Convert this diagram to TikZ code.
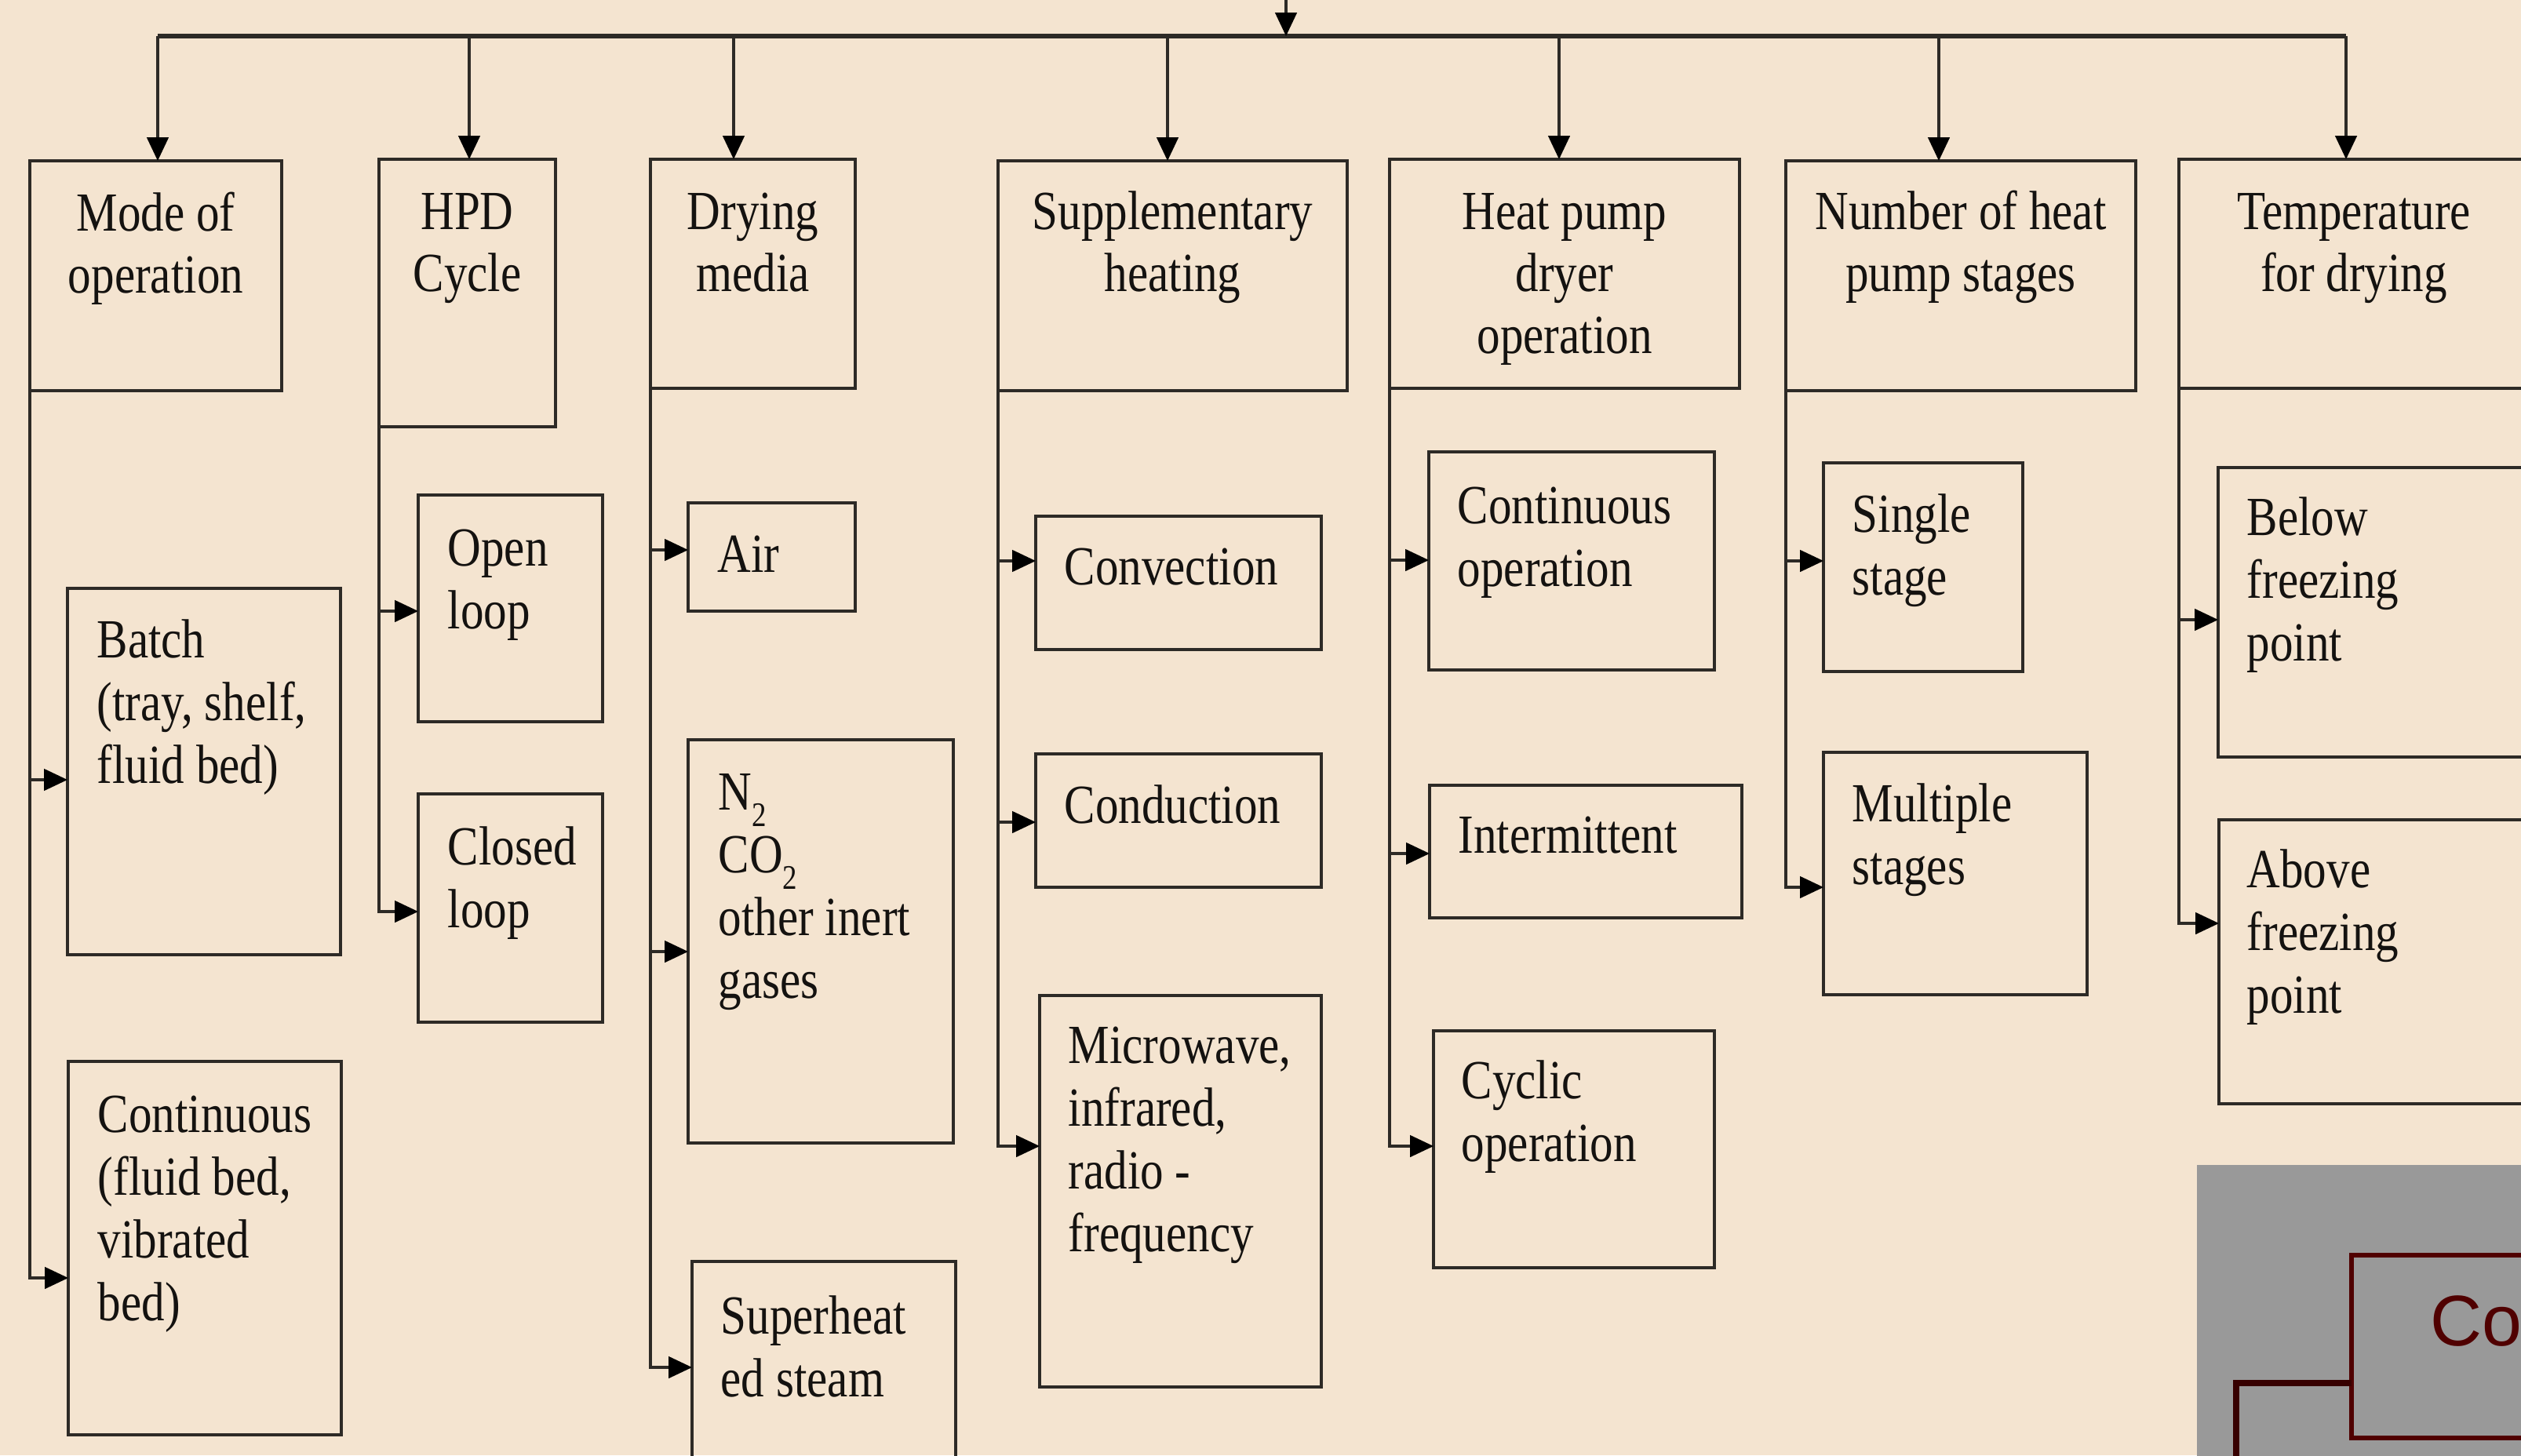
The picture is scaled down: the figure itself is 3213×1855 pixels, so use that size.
\documentclass[tikz,border=0pt]{standalone}
\usepackage{fontspec}
\setmainfont{Liberation Serif}[FakeStretch=0.84]
\newfontfamily\cofont{Liberation Sans}
\usetikzlibrary{arrows.meta,calc,fit}
\definecolor{bg}{RGB}{244,228,208}
\definecolor{linec}{RGB}{45,42,38}
\definecolor{txtc}{RGB}{20,18,16}
\definecolor{grayblk}{RGB}{153,153,153}
\definecolor{dred}{RGB}{80,0,0}
\definecolor{ddred}{RGB}{55,0,0}
\newcommand{\ttlfont}{\fontsize{20pt}{22.4pt}\selectfont}
\newcommand{\lblfont}{\fontsize{20pt}{22.76pt}\selectfont}
\newcommand{\subtwo}{\raisebox{-6pt}{\fontsize{12.5pt}{12.5pt}\selectfont 2}}
\begin{document}
\begin{tikzpicture}[x=0.01cm,y=-0.01cm,
  box/.style={draw=linec, line width=1.1pt, inner sep=0pt, outer sep=0pt},
  ttl/.style={anchor=base, inner sep=0pt, font=\ttlfont, text=txtc},
  lbl/.style={anchor=base west, inner sep=0pt, font=\lblfont, text=txtc},
  arr/.style={draw=linec, line width=0.9pt, -{Triangle[length=8.5pt,width=7.8pt,color=black]}},
  barline/.style={draw=linec, line width=1.5pt},
  cobox/.style={draw=dred, line width=1.6pt, inner sep=0pt, outer sep=0pt},
  coline/.style={draw=ddred, line width=2.4pt}]
\useasboundingbox (0,0) rectangle (3213,1855);
\clip (0,0) rectangle (3213,1855);
\fill[bg] (0,0) rectangle (3213,1855);

% ---- top bar ----
\coordinate (src) at (1639,-10);
\coordinate (b1) at (201,46);
\coordinate (b2) at (598,46);
\coordinate (b3) at (935,46);
\coordinate (b4) at (1488,46);
\coordinate (b5) at (1987,46);
\coordinate (b6) at (2471,46);
\coordinate (b7) at (2990,46);
\draw[barline] (b1) -- (b7);
\draw[arr] (src) -- (src |- b1);

% ---- title boxes ----
\node[box, fit={(38,205) (359,498)}] (mode) {};
\node[box, fit={(483,203) (708,544)}] (hpd) {};
\node[box, fit={(829,203) (1090,495)}] (dry) {};
\node[box, fit={(1272,205) (1717,498)}] (sup) {};
\node[box, fit={(1771,203) (2217,495)}] (hpo) {};
\node[box, fit={(2276,205) (2722,498)}] (num) {};
\node[box, fit={(2777,203) (3240,495)}] (tmp) {};

\node[ttl] (mode-t) at ($(mode.north)+(0,90)$) {\begin{tabular}[t]{@{}c@{}}Mode of\\operation\end{tabular}};
\node[ttl] (hpd-t) at ($(hpd.north)+(0,90)$) {\begin{tabular}[t]{@{}c@{}}HPD\\Cycle\end{tabular}};
\node[ttl] (dry-t) at ($(dry.north)+(0,90)$) {\begin{tabular}[t]{@{}c@{}}Drying\\media\end{tabular}};
\node[ttl] (sup-t) at ($(sup.north)+(0,88)$) {\begin{tabular}[t]{@{}c@{}}Supplementary\\heating\end{tabular}};
\node[ttl] (hpo-t) at ($(hpo.north)+(0,90)$) {\begin{tabular}[t]{@{}c@{}}Heat pump\\dryer\\operation\end{tabular}};
\node[ttl] (num-t) at ($(num.north)+(0,88)$) {\begin{tabular}[t]{@{}c@{}}Number of heat\\pump stages\end{tabular}};
\node[ttl] (tmp-t) at ($(tmp.north west)+(223,90)$) {\begin{tabular}[t]{@{}c@{}}Temperature\\for drying\end{tabular}};

\draw[arr] (b1) -- (b1 |- mode.north);
\draw[arr] (b2) -- (b2 |- hpd.north);
\draw[arr] (b3) -- (b3 |- dry.north);
\draw[arr] (b4) -- (b4 |- sup.north);
\draw[arr] (b5) -- (b5 |- hpo.north);
\draw[arr] (b6) -- (b6 |- num.north);
\draw[arr] (b7) -- (b7 |- tmp.north);

% ---- children ----
\node[box, fit={(86,750) (434,1217)}] (batch) {};
\node[box, fit={(87,1353) (435,1829)}] (cont) {};
\node[box, fit={(533,631) (768,920)}] (open) {};
\node[box, fit={(533,1012) (768,1303)}] (closed) {};
\node[box, fit={(877,641) (1090,779)}] (air) {};
\node[box, fit={(877,943) (1215,1457)}] (gas) {};
\node[box, fit={(882,1608) (1218,1900)}] (steam) {};
\node[box, fit={(1320,658) (1684,828)}] (conv) {};
\node[box, fit={(1320,961) (1684,1131)}] (cond) {};
\node[box, fit={(1325,1269) (1684,1768)}] (micro) {};
\node[box, fit={(1821,576) (2185,854)}] (contop) {};
\node[box, fit={(1822,1001) (2220,1170)}] (inter) {};
\node[box, fit={(1827,1314) (2185,1616)}] (cyc) {};
\node[box, fit={(2324,590) (2578,856)}] (single) {};
\node[box, fit={(2324,959) (2660,1268)}] (multi) {};
\node[box, fit={(2827,596) (3240,965)}] (below) {};
\node[box, fit={(2828,1045) (3240,1407)}] (above) {};

\node[lbl] (batch-t) at ($(batch.north west)+(37,88)$) {\begin{tabular}[t]{@{}l@{}}Batch\\(tray, shelf,\\fluid bed)\end{tabular}};
\node[lbl] (cont-t) at ($(cont.north west)+(37,90)$) {\begin{tabular}[t]{@{}l@{}}Continuous\\(fluid bed,\\vibrated\\bed)\end{tabular}};
\node[lbl] (open-t) at ($(open.north west)+(37,90)$) {\begin{tabular}[t]{@{}l@{}}Open\\loop\end{tabular}};
\node[lbl] (closed-t) at ($(closed.north west)+(37,90)$) {\begin{tabular}[t]{@{}l@{}}Closed\\loop\end{tabular}};
\node[lbl] (air-t) at ($(air.north west)+(37,88)$) {Air};
\node[lbl] (gas-t) at ($(gas.north west)+(38,89)$) {\begin{tabular}[t]{@{}l@{}}N\subtwo\\CO\subtwo\\other inert\\gases\end{tabular}};
\node[lbl] (steam-t) at ($(steam.north west)+(36,92)$) {\begin{tabular}[t]{@{}l@{}}Superheat\\ed steam\end{tabular}};
\node[lbl] (conv-t) at ($(conv.north west)+(36,87)$) {Convection};
\node[lbl] (cond-t) at ($(cond.north west)+(36,88)$) {Conduction};
\node[lbl] (micro-t) at ($(micro.north west)+(36,86)$) {\begin{tabular}[t]{@{}l@{}}Microwave,\\infrared,\\radio -\\frequency\end{tabular}};
\node[lbl] (contop-t) at ($(contop.north west)+(36,91)$) {\begin{tabular}[t]{@{}l@{}}Continuous\\operation\end{tabular}};
\node[lbl] (inter-t) at ($(inter.north west)+(36,86)$) {Intermittent};
\node[lbl] (cyc-t) at ($(cyc.north west)+(35,86)$) {\begin{tabular}[t]{@{}l@{}}Cyclic\\operation\end{tabular}};
\node[lbl] (single-t) at ($(single.north west)+(36,88)$) {\begin{tabular}[t]{@{}l@{}}Single\\stage\end{tabular}};
\node[lbl] (multi-t) at ($(multi.north west)+(36,88)$) {\begin{tabular}[t]{@{}l@{}}Multiple\\stages\end{tabular}};
\node[lbl] (below-t) at ($(below.north west)+(36,86)$) {\begin{tabular}[t]{@{}l@{}}Below\\freezing\\point\end{tabular}};
\node[lbl] (above-t) at ($(above.north west)+(35,86)$) {\begin{tabular}[t]{@{}l@{}}Above\\freezing\\point\end{tabular}};

% ---- entry points ----
\coordinate (batch-in) at ($(batch.north west)+(0,244)$);
\coordinate (cont-in) at ($(cont.north west)+(0,276)$);
\coordinate (open-in) at ($(open.north west)+(0,148)$);
\coordinate (closed-in) at ($(closed.north west)+(0,150)$);
\coordinate (air-in) at ($(air.north west)+(0,60)$);
\coordinate (gas-in) at ($(gas.north west)+(0,270)$);
\coordinate (steam-in) at ($(steam.north west)+(0,135)$);
\coordinate (conv-in) at ($(conv.north west)+(0,57)$);
\coordinate (cond-in) at ($(cond.north west)+(0,87)$);
\coordinate (micro-in) at ($(micro.north west)+(0,192)$);
\coordinate (contop-in) at ($(contop.north west)+(0,138)$);
\coordinate (inter-in) at ($(inter.north west)+(0,87)$);
\coordinate (cyc-in) at ($(cyc.north west)+(0,147)$);
\coordinate (single-in) at ($(single.north west)+(0,125)$);
\coordinate (multi-in) at ($(multi.north west)+(0,172)$);
\coordinate (below-in) at ($(below.north west)+(0,194)$);
\coordinate (above-in) at ($(above.north west)+(0,132)$);

% ---- trunks and branches ----
\draw[arr] (mode.south west |- batch-in) -- (batch-in);
\draw[arr] (mode.south west) |- (cont-in);
\draw[arr] (hpd.south west |- open-in) -- (open-in);
\draw[arr] (hpd.south west) |- (closed-in);
\draw[arr] (dry.south west |- air-in) -- (air-in);
\draw[arr] (dry.south west |- gas-in) -- (gas-in);
\draw[arr] (dry.south west) |- (steam-in);
\draw[arr] (sup.south west |- conv-in) -- (conv-in);
\draw[arr] (sup.south west |- cond-in) -- (cond-in);
\draw[arr] (sup.south west) |- (micro-in);
\draw[arr] (hpo.south west |- contop-in) -- (contop-in);
\draw[arr] (hpo.south west |- inter-in) -- (inter-in);
\draw[arr] (hpo.south west) |- (cyc-in);
\draw[arr] (num.south west |- single-in) -- (single-in);
\draw[arr] (num.south west) |- (multi-in);
\draw[arr] (tmp.south west |- below-in) -- (below-in);
\draw[arr] (tmp.south west) |- (above-in);

% ---- grey inset, bottom right ----
\fill[grayblk] (2800,1485) rectangle (3240,1880);
\node[cobox, fit={(2997,1600) (3260,1833)}] (co) {};
\node[anchor=base west, inner sep=0pt, font=\cofont\fontsize{26pt}{30pt}\selectfont, text=dred] (co-t) at ($(co.north west)+(100,115)$) {Co};
\coordinate (co-src) at (2850,1900);
\draw[coline] (co-src) |- ($(co.north west)+(0,163)$);
\end{tikzpicture}
\end{document}
